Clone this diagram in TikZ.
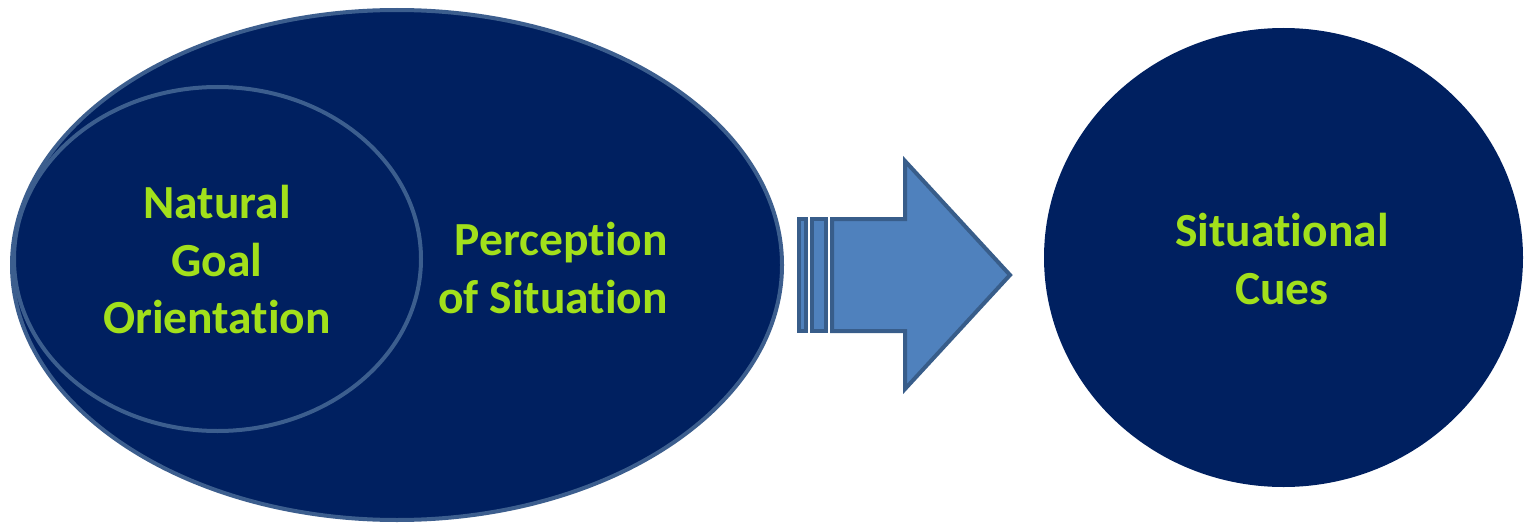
\documentclass[tikz,border=0pt]{standalone}
\usepackage{fontspec}
\setmainfont[Ligatures=NoCommon]{Carlito}
\usetikzlibrary{shapes.geometric}
\definecolor{navy}{HTML}{002060}
\definecolor{rimblue}{HTML}{3C5E8E}
\definecolor{arrowfill}{HTML}{4F81BD}
\definecolor{arrowline}{HTML}{385D8A}
\definecolor{lime}{HTML}{A2E01B}
\tikzset{
  blob/.style={ellipse, draw=rimblue, fill=navy, line width=4pt, inner sep=0pt},
  label text/.style={text=lime, font=\bfseries\fontsize{47.5}{57.5}\selectfont, inner sep=0pt},
  arrowpart/.style={draw=arrowline, fill=arrowfill, line width=4pt, line join=miter},
}
\begin{document}
\begin{tikzpicture}[x=1pt, y=-1pt]
  \useasboundingbox (0,0) rectangle (1529,527);
  % outer ellipse and the nested one
  \node[blob, minimum width=770pt, minimum height=510pt] (outer) at (397,265) {};
  \node[blob, minimum width=407pt, minimum height=344pt] (inner) at (217.5,259) {};
  % circle on the right
  \node[ellipse, fill=navy, minimum width=479pt, minimum height=459pt, inner sep=0pt] (cues) at (1283.5,257.5) {};
  % striped block arrow
  \draw[arrowpart] (799,219) rectangle (806,331);
  \draw[arrowpart] (812,219) rectangle (826,331);
  \draw[arrowpart] (832,219) -- (905,219) -- (905,161) -- (1010,275)
        -- (905,389) -- (905,331) -- (832,331) -- cycle;
  % labels
  \node[label text, align=center] (ngo) at (217,260) {Natural\\Goal\\Orientation};
  \node[label text, align=right, anchor=east] (pos) at (668,268) {Perception\\of Situation};
  \node[label text, align=center] (sc) at (1282,259) {Situational\\Cues};
\end{tikzpicture}
\end{document}
